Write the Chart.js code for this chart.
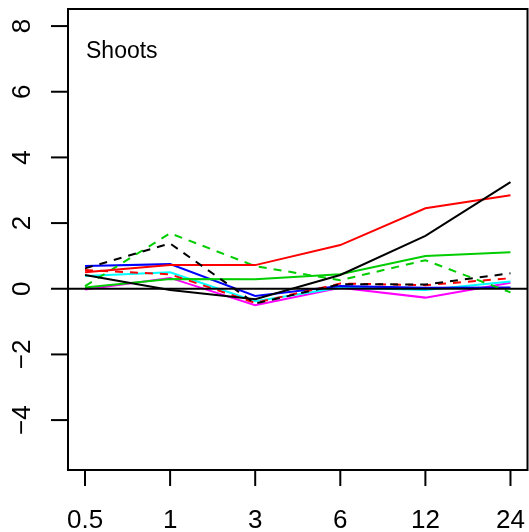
<!DOCTYPE html>
<html>
<head>
<meta charset="utf-8">
<script src="https://cdn.jsdelivr.net/npm/chart.js@4"></script>
<style>
  html, body { margin: 0; padding: 0; background: #fff; }
  canvas { display: block; }
</style>
</head>
<body>
<canvas id="chart" width="529" height="532"></canvas>
<script>
// sampling times (h)
const categories = ['0.5', '1', '3', '6', '12', '24'];
const yTicks = [-4, -2, 0, 2, 4, 6, 8];

const blackSolid  = [0.42, -0.04, -0.32, 0.42, 1.61, 3.25];
const blackDashed = [0.62, 1.38, -0.45, 0.14, 0.13, 0.47];
const redSolid    = [0.50, 0.72, 0.72, 1.33, 2.45, 2.85];
const redDashed   = [0.57, 0.44, -0.43, 0.16, 0.11, 0.32];
const greenSolid  = [0.04, 0.30, 0.29, 0.44, 1.00, 1.11];
const greenDashed = [0.08, 1.69, 0.69, 0.26, 0.87, -0.11];
const blueSolid   = [0.69, 0.75, -0.22, 0.08, 0.03, 0.04];
const cyanSolid   = [0.39, 0.50, -0.38, 0.04, -0.04, 0.22];
const magentaSolid = [-0.02, 0.33, -0.50, 0.03, -0.27, 0.18];

const FONT = '"Liberation Sans", Arial, Helvetica, sans-serif';

function series(values, color, dashed) {
  return {
    data: values.map((v, i) => ({ x: i, y: v })),
    borderColor: color,
    borderWidth: 2,
    borderDash: dashed ? [8, 7] : [],
    pointRadius: 0,
    tension: 0,
    fill: false
  };
}

// box, zero line, axes and title in the R base-graphics style
const frame = {
  id: 'frame',
  afterDatasetsDraw(chart) {
    const { ctx, chartArea: a, scales: { y } } = chart;
    const y0 = y.getPixelForValue(0);
    ctx.save();
    ctx.strokeStyle = '#000';
    ctx.lineWidth = 2;
    ctx.beginPath();
    ctx.moveTo(a.left, y0);
    ctx.lineTo(a.right, y0);
    ctx.stroke();
    ctx.restore();
  },
  afterDraw(chart) {
    const { ctx, chartArea: a, scales: { x, y } } = chart;
    ctx.save();
    ctx.strokeStyle = '#000';
    ctx.fillStyle = '#000';
    ctx.lineWidth = 2;
    ctx.strokeRect(a.left, a.top, a.right - a.left, a.bottom - a.top);

    ctx.font = '26px ' + FONT;
    ctx.textAlign = 'center';
    ctx.textBaseline = 'alphabetic';
    categories.forEach((c, i) => {
      const px = x.getPixelForValue(i);
      ctx.beginPath();
      ctx.moveTo(px, a.bottom);
      ctx.lineTo(px, a.bottom + 16);
      ctx.stroke();
      ctx.fillText(c, px, 528);
    });

    yTicks.forEach(v => {
      const py = y.getPixelForValue(v);
      ctx.beginPath();
      ctx.moveTo(a.left - 17, py);
      ctx.lineTo(a.left, py);
      ctx.stroke();
      ctx.save();
      ctx.translate(30, py);
      ctx.rotate(-Math.PI / 2);
      ctx.fillText(v < 0 ? '\u2212' + Math.abs(v) : String(v), 0, 0);
      ctx.restore();
    });

    ctx.font = '23px ' + FONT;
    ctx.textAlign = 'left';
    ctx.fillText('Shoots', 86, 58);
    ctx.restore();
  }
};

new Chart(document.getElementById('chart'), {
  type: 'line',
  data: {
    datasets: [
      series(blackSolid, '#000000', false),
      series(blackDashed, '#000000', true),
      series(redSolid, '#FF0000', false),
      series(redDashed, '#FF0000', true),
      series(greenSolid, '#00CD00', false),
      series(greenDashed, '#00CD00', true),
      series(blueSolid, '#0000FF', false),
      series(cyanSolid, '#00FFFF', false),
      series(magentaSolid, '#FF00FF', false)
    ]
  },
  options: {
    responsive: false,
    animation: false,
    layout: { padding: { left: 68, right: 1.5, top: 9, bottom: 62 } },
    plugins: {
      legend: { display: false },
      tooltip: { enabled: false }
    },
    scales: {
      x: { type: 'linear', min: -0.2, max: 5.2, display: false },
      y: { type: 'linear', min: -5.52, max: 8.52, display: false }
    }
  },
  plugins: [frame]
});
</script>
</body>
</html>
